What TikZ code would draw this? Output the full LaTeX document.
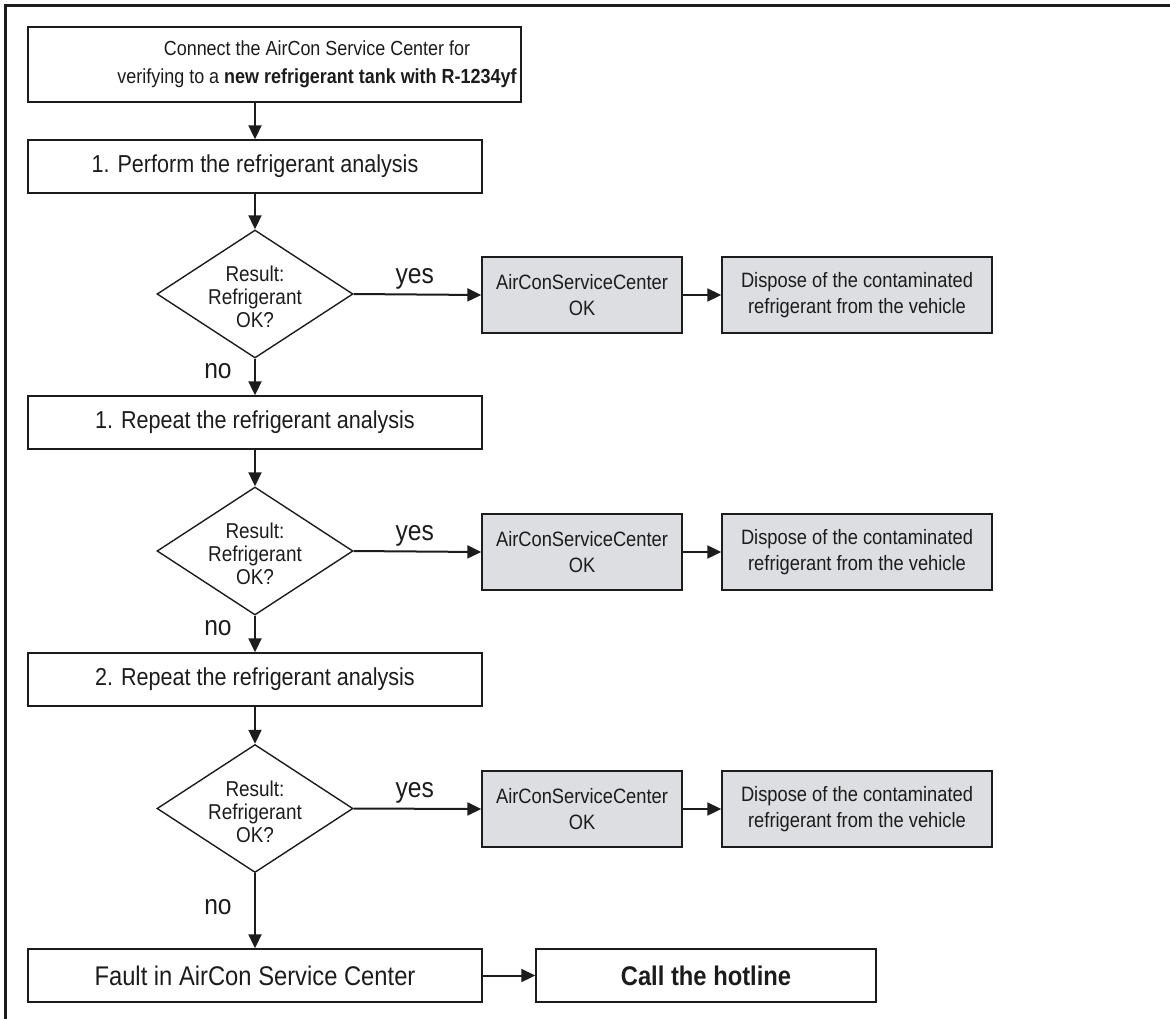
\documentclass[tikz,border=0pt]{standalone}
\usepackage{fontspec}
\setmainfont[FakeStretch=0.88]{Liberation Sans}
\usetikzlibrary{shapes.geometric,arrows.meta}
\definecolor{grayfill}{RGB}{221,222,225}
\definecolor{ink}{RGB}{28,28,28}
\begin{document}
\begin{tikzpicture}[x=1pt,y=-1pt,
  box/.style={draw=ink,line width=1.4pt,minimum width=454pt,minimum height=53pt,inner sep=0pt,
    font=\fontsize{24.5}{30}\selectfont,text=ink,align=center},
  bigtext/.style={font=\fontsize{27}{32}\selectfont},
  graybox/.style={draw=ink,line width=1.4pt,fill=grayfill,minimum height=76pt,inner sep=0pt,
    font=\fontsize{20.8}{26}\selectfont,text=ink,align=center},
  decision/.style={draw=ink,line width=1.4pt,shape=diamond,minimum width=196pt,minimum height=128pt,inner sep=0pt},
  dtext/.style={font=\fontsize{21.5}{23}\selectfont,text=ink,align=center,inner sep=0pt},
  toptext/.style={font=\fontsize{20.4}{28}\selectfont,text=ink,align=center,inner sep=0pt},
  lbl/.style={font=\fontsize{28}{30}\selectfont,text=ink,inner sep=0pt,anchor=base},
  arr/.style={draw=ink,line width=2pt,-{Triangle[length=14pt,width=13pt]}}
]
\useasboundingbox (0,0) rectangle (1170,1018);
% frame
\draw[line width=3pt,ink] (5,1020) -- (5,5) -- (1172,5);

% top box
\node[box,minimum width=493pt,minimum height=75pt] (top) at (274.5,64.5) {};
\node[toptext] (topt) at (317,64)
  {Connect the AirCon Service Center for\\verifying to a \textbf{new refrigerant tank with R-1234yf}};
\node[box] (b1) at (255,166.5) {1. Perform the refrigerant analysis};
\node[decision] (d1) at (255,294) {};
\node[dtext] (d1t) at (255,297) {Result:\\Refrigerant\\OK?};
\node[graybox,minimum width=200pt] (g1) at (582,295) {AirConServiceCenter\\OK};
\node[graybox,minimum width=270pt] (p1) at (857,295) {Dispose of the contaminated\\refrigerant from the vehicle};

\node[box] (b2) at (255,422.5) {1. Repeat the refrigerant analysis};
\node[decision] (d2) at (255,551) {};
\node[dtext] (d2t) at (255,554) {Result:\\Refrigerant\\OK?};
\node[graybox,minimum width=200pt] (g2) at (582,552) {AirConServiceCenter\\OK};
\node[graybox,minimum width=270pt] (p2) at (857,552) {Dispose of the contaminated\\refrigerant from the vehicle};

\node[box] (b3) at (255,679.5) {2. Repeat the refrigerant analysis};
\node[decision] (d3) at (255,808.5) {};
\node[dtext] (d3t) at (255,811.5) {Result:\\Refrigerant\\OK?};
\node[graybox,minimum width=200pt] (g3) at (582,809) {AirConServiceCenter\\OK};
\node[graybox,minimum width=270pt] (p3) at (857,809) {Dispose of the contaminated\\refrigerant from the vehicle};

\node[box,bigtext] (f) at (255,975.5) {Fault in AirCon Service Center};
\node[box,bigtext,minimum width=340pt] (h) at (706,975.5) {\textbf{Call the hotline}};

% labels
\node[lbl] (y1) at ([xshift=61pt,yshift=11pt]d1.east) {yes};
\node[lbl] (y2) at ([xshift=61pt,yshift=11pt]d2.east) {yes};
\node[lbl] (y3) at ([xshift=61pt,yshift=11pt]d3.east) {yes};
\node[lbl] (n1) at ([xshift=-37pt,yshift=-20pt]d1.south) {no};
\node[lbl] (n2) at ([xshift=-37pt,yshift=-20pt]d2.south) {no};
\node[lbl] (n3) at ([xshift=-37pt,yshift=-41pt]d3.south) {no};

% connectors
\draw[arr] (top.south -| b1.north) -- (b1.north);
\draw[arr] (b1.south) -- (d1.north);
\draw[arr] (d1.east) -- (g1.west);
\draw[arr] (g1.east) -- (p1.west);
\draw[arr] (d1.south) -- (b2.north);

\draw[arr] (b2.south) -- (d2.north);
\draw[arr] (d2.east) -- (g2.west);
\draw[arr] (g2.east) -- (p2.west);
\draw[arr] (d2.south) -- (b3.north);

\draw[arr] (b3.south) -- (d3.north);
\draw[arr] (d3.east) -- (g3.west);
\draw[arr] (g3.east) -- (p3.west);
\draw[arr] (d3.south) -- (f.north);

\draw[arr] (f.east) -- (h.west);
\end{tikzpicture}
\end{document}
